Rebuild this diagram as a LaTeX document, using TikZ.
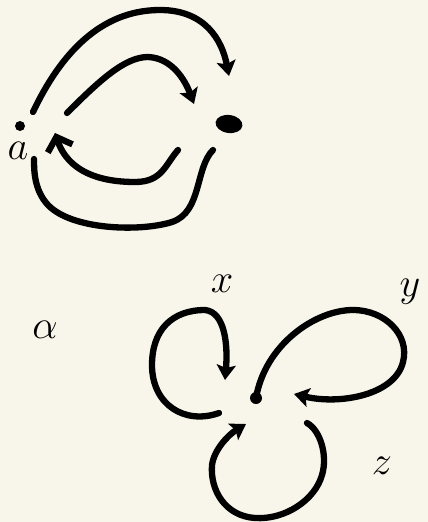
\documentclass[tikz,border=0pt]{standalone}
\usetikzlibrary{arrows.meta,shapes.geometric}
\definecolor{paper}{HTML}{F8F6EA}
\tikzset{
  stroke/.style={line width=6.3pt, line cap=round, line join=round, black},
  arr/.style={stroke, -{Stealth[length=15pt,width=19pt,inset=3pt]}},
  oarr/.style={stroke, -{Straight Barb[length=12pt,width=26pt]}},
  dotnode/.style={circle, fill=black, inner sep=0pt, minimum size=#1},
  lbl/.style={font=\Large, inner sep=0pt, scale=2.8, transform shape}
}
\begin{document}
\begin{tikzpicture}[x=1pt,y=-1pt]
\fill[paper] (0,0) rectangle (428,522);
\useasboundingbox (0,0) rectangle (428,522);
% top diagram
\node[dotnode=10pt] (pa) at (20,126) {};
\node[ellipse, fill=black, inner sep=0pt, minimum width=27pt, minimum height=18pt, rotate=-8] (pb) at (229,124) {};
\node[lbl] (la) at (18,151) {$a$};
\coordinate (s1) at (33,112);
\coordinate (e1) at (229,76);
\coordinate (s2) at (67,113);
\coordinate (e2) at (194,104);
\coordinate (s3) at (178,150);
\coordinate (e3) at (55,133);
\coordinate (s4) at (213,150);
\coordinate (e4) at (34,159);
\draw[arr] (s1) .. controls (60,55) and (100,10) .. (160,10) .. controls (205,10) and (222,40) .. (e1);
\draw[arr] (s2) .. controls (100,80) and (125,57) .. (148,57) .. controls (172,58) and (185,80) .. (e2);
\draw[oarr] (s3) .. controls (165,165) and (162,182) .. (135,182) .. controls (100,182) and (68,172) .. (e3);
\draw[stroke] (s4) .. controls (195,168) and (202,212) .. (172,222) .. controls (140,232) and (72,230) .. (48,205) .. controls (34,190) and (34,170) .. (e4);
% bottom diagram
\node[dotnode=12pt] (pc) at (256,398) {};
\node[lbl] (lx) at (222,284) {$x$};
\node[lbl] (ly) at (410,292) {$y$};
\node[lbl] (lz) at (382,466) {$z$};
\node[lbl] (lal) at (45,330) {$\alpha$};
\coordinate (sx) at (219,413);
\coordinate (ex) at (225,380);
\coordinate (ey) at (294,394);
\coordinate (sz) at (307,423);
\coordinate (ez) at (246,424);
\draw[arr] (sx) .. controls (185,425) and (152,405) .. (152,365) .. controls (152,330) and (172,310) .. (205,310) .. controls (225,312) and (228,345) .. (ex);
\draw[arr] (pc.center) .. controls (265,345) and (315,310) .. (353,310) .. controls (385,310) and (410,335) .. (403,362) .. controls (395,395) and (340,405) .. (ey);
\draw[arr] (sz) .. controls (320,430) and (328,455) .. (322,475) .. controls (315,500) and (285,520) .. (255,518) .. controls (225,516) and (210,490) .. (212,465) .. controls (214,450) and (228,435) .. (ez);
\end{tikzpicture}
\end{document}
